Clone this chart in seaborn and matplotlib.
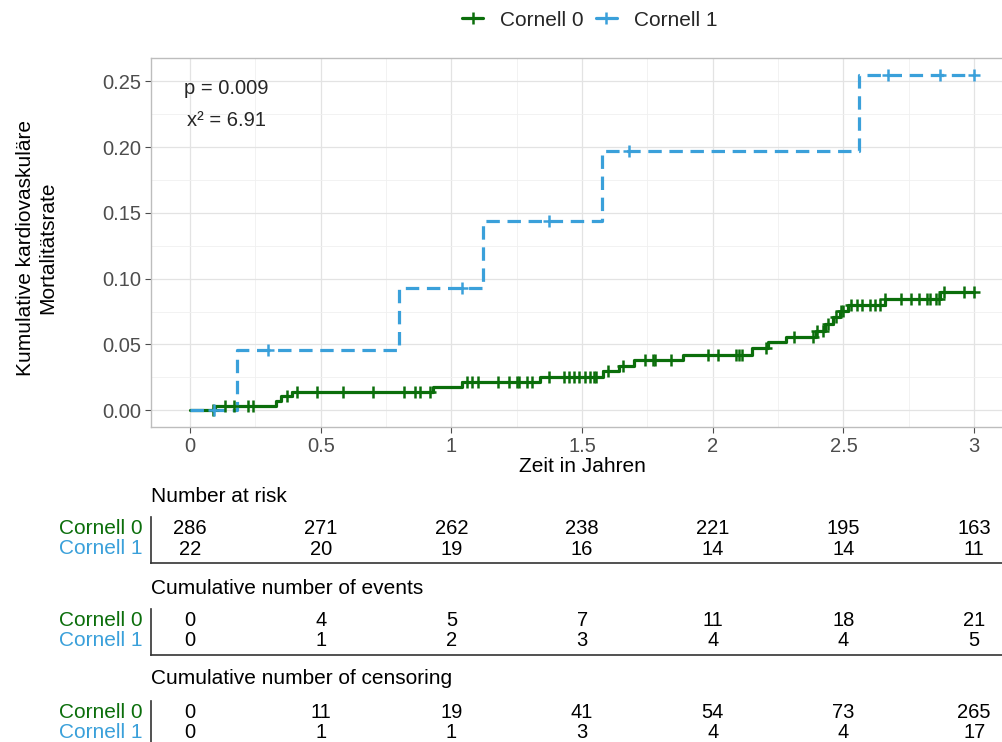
import numpy as np
import pandas as pd
import matplotlib
matplotlib.use("Agg")
import matplotlib.pyplot as plt
from matplotlib.lines import Line2D
import seaborn as sns

# ---- data -----------------------------------------------------------------
groups = ["Cornell 0", "Cornell 1"]

# Cornell 0: event times and cumulative mortality after each event
c0_event_t = [0.0, 0.096, 0.33, 0.35, 0.39, 0.93, 1.04, 1.34, 1.58, 1.64, 1.70,
              1.885, 2.15, 2.21, 2.28, 2.395, 2.43, 2.46, 2.487, 2.517, 2.66, 2.87]
c0_cum = [0.0, 0.0035, 0.0070, 0.0105, 0.0137, 0.0176, 0.0216, 0.0256, 0.0297,
          0.0338, 0.0380, 0.0422, 0.0469, 0.0515, 0.0558, 0.0603, 0.0652,
          0.0712, 0.0756, 0.0800, 0.0842, 0.0900]
c0_censor_t = [0.088, 0.134, 0.17, 0.22, 0.24, 0.37, 0.41, 0.485, 0.585, 0.70,
               0.82, 0.86, 0.88, 0.92, 1.06, 1.08, 1.10, 1.18, 1.22, 1.25, 1.26,
               1.29, 1.31, 1.375, 1.43, 1.45, 1.47, 1.49, 1.51, 1.53, 1.545,
               1.555, 1.60, 1.655, 1.74, 1.77, 1.78, 1.84, 1.98, 2.02, 2.09,
               2.10, 2.11, 2.205, 2.31, 2.385, 2.40, 2.42, 2.44, 2.47, 2.49,
               2.50, 2.53, 2.55, 2.57, 2.60, 2.62, 2.64, 2.66, 2.72, 2.76, 2.79,
               2.82, 2.83, 2.855, 2.865, 2.885, 2.96, 3.0]

# Cornell 1
c1_event_t = [0.0, 0.18, 0.80, 1.12, 1.575, 2.56]
c1_cum = [0.0, 0.0455, 0.0932, 0.1436, 0.1970, 0.2545]
c1_censor_t = [0.09, 0.30, 1.04, 1.375, 1.68, 2.67, 2.87, 3.0]

t_end = 3.0

# risk tables
table_times = [0, 0.5, 1, 1.5, 2, 2.5, 3]
at_risk_c0 = [286, 271, 262, 238, 221, 195, 163]
at_risk_c1 = [22, 20, 19, 16, 14, 14, 11]
events_c0 = [0, 4, 5, 7, 11, 18, 21]
events_c1 = [0, 1, 2, 3, 4, 4, 5]
censor_c0 = [0, 11, 19, 41, 54, 73, 265]
censor_c1 = [0, 1, 1, 3, 4, 4, 17]

p_text = "p = 0.009"
chi_text = "x² = 6.91"

# ---- style ----------------------------------------------------------------
sns.set_style("white")
plt.rcParams["font.family"] = ["Liberation Sans", "DejaVu Sans"]

green = "#0B6E0B"
blue = "#3AA0DA"
colors = {"Cornell 0": green, "Cornell 1": blue}

W, H = 1003, 742
fig = plt.figure(figsize=(W / 100, H / 100), dpi=100)

xmin, xmax = -0.15, 3.15
px_per_unit = 261.4
ax_left_px = 190 + xmin * px_per_unit
ax_w_px = (xmax - xmin) * px_per_unit


def fig_rect(top_px, bottom_px):
    return [ax_left_px / W, 1 - bottom_px / H, ax_w_px / W, (bottom_px - top_px) / H]


ax = fig.add_axes(fig_rect(58, 427))


def step_frame(name, times, cum):
    t = list(times) + [t_end]
    y = list(cum) + [cum[-1]]
    return pd.DataFrame({"time": t, "cum": y, "group": name})


def censor_frame(name, times, ev_t, cum):
    idx = np.searchsorted(np.asarray(ev_t), np.asarray(times), side="right") - 1
    return pd.DataFrame({"time": times, "cum": np.asarray(cum)[idx], "group": name})


curves = [
    (step_frame("Cornell 0", c0_event_t, c0_cum), censor_frame("Cornell 0", c0_censor_t, c0_event_t, c0_cum)),
    (step_frame("Cornell 1", c1_event_t, c1_cum), censor_frame("Cornell 1", c1_censor_t, c1_event_t, c1_cum)),
]

for (sf, cf), name in zip(curves, groups):
    dashed = name == "Cornell 1"
    sns.lineplot(data=sf, x="time", y="cum", ax=ax, color=colors[name],
                 drawstyle="steps-post", estimator=None, sort=False,
                 linewidth=2.3, legend=False,
                 dashes=False)
    if dashed:
        ax.lines[-1].set_dashes((4.2, 2.4))
    sns.scatterplot(data=cf, x="time", y="cum", ax=ax, color=colors[name],
                    marker="+", s=70, linewidth=1.8, legend=False, zorder=4)

ax.set_xlim(xmin, xmax)
ax.set_ylim(-0.0128, 0.2678)
ax.set_xticks(table_times)
ax.set_xticklabels(["0", "0.5", "1", "1.5", "2", "2.5", "3"])
ax.set_yticks([0, 0.05, 0.10, 0.15, 0.20, 0.25])
ax.set_yticklabels(["0.00", "0.05", "0.10", "0.15", "0.20", "0.25"])
ax.set_xticks(np.arange(0.25, 3.0, 0.5), minor=True)
ax.set_yticks(np.arange(0.025, 0.26, 0.05), minor=True)
ax.grid(True, which="major", color="#E3E3E3", linewidth=0.9)
ax.grid(True, which="minor", color="#F0F0F0", linewidth=0.6)
ax.set_axisbelow(True)
ax.tick_params(axis="both", which="major", labelsize=14.5, labelcolor="#4D4D4D",
               color="#4D4D4D", length=4, width=0.8, pad=3, bottom=True, left=True)
ax.tick_params(axis="both", which="minor", length=0)
for s in ax.spines.values():
    s.set_color("#BDBDBD")
    s.set_linewidth(1.0)

ax.set_xlabel("Zeit in Jahren", fontsize=15, color="black", labelpad=1)
ax.set_ylabel("Kumulative kardiovaskuläre\nMortalitätsrate", fontsize=15,
              color="black", linespacing=1.2)
ax.yaxis.set_label_coords((57 - ax_left_px) / ax_w_px, 0.486)

ax.text(0.14, 0.2445, p_text, ha="center", va="center", fontsize=14.5)
ax.text(0.14, 0.2205, chi_text, ha="center", va="center", fontsize=14.5)

handles = [Line2D([0], [0], color=colors[g], lw=2.3, marker="+", markersize=8,
                  markeredgewidth=1.8) for g in groups]
fig.legend(handles, groups, loc="center", bbox_to_anchor=(0.588, 0.973), ncol=2,
           frameon=False, fontsize=15, handlelength=1.0, handletextpad=0.8,
           columnspacing=0.6)

# ---- risk tables ------------------------------------------------------------
tables = [
    ("Number at risk", at_risk_c0, at_risk_c1, 517, 563, 497),
    ("Cumulative number of events", events_c0, events_c1, 609, 655, 589),
    ("Cumulative number of censoring", censor_c0, censor_c1, 701, 747, 679),
]

for title, row0, row1, top, bottom, title_y in tables:
    tax = fig.add_axes(fig_rect(top, bottom))
    tax.set_xlim(xmin, xmax)
    tax.set_ylim(bottom, top)
    tax.set_xticks([])
    tax.set_yticks([])
    tax.set_facecolor("none")
    for side in ["top", "right"]:
        tax.spines[side].set_visible(False)
    for side in ["left", "bottom"]:
        tax.spines[side].set_color("#333333")
        tax.spines[side].set_linewidth(1.2)
    y0, y1 = top + 11, top + 32
    for t, a, b in zip(table_times, row0, row1):
        tax.text(t, y0, str(a), ha="center", va="center", fontsize=14.5, color="black")
        tax.text(t, y1, str(b), ha="center", va="center", fontsize=14.5, color="black")
    fig.text(143 / W, 1 - y0 / H, "Cornell 0", ha="right", va="center",
             fontsize=15, color=green)
    fig.text(143 / W, 1 - y1 / H, "Cornell 1", ha="right", va="center",
             fontsize=15, color=blue)
    fig.text(151 / W, 1 - title_y / H, title, ha="left", va="center",
             fontsize=15, color="black")

fig.savefig("out.png", dpi=100)
